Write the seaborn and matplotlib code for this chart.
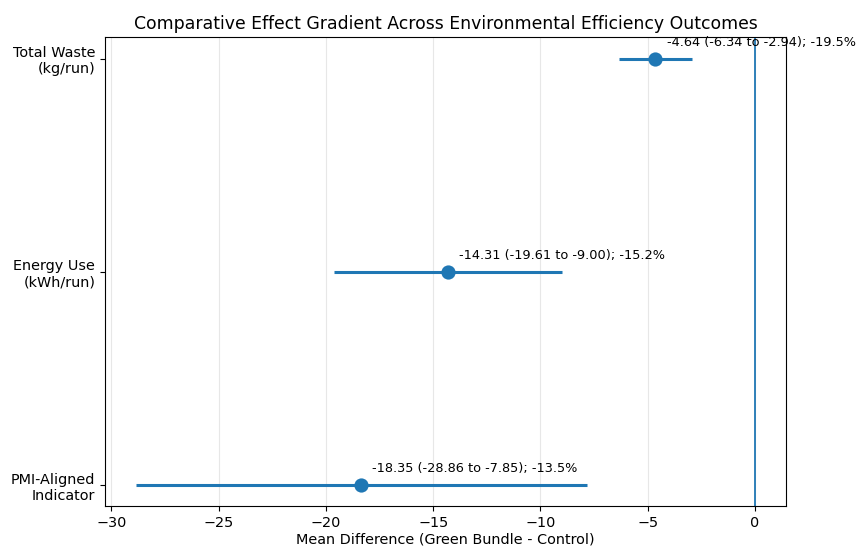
import pandas as pd
import matplotlib
matplotlib.use("Agg")
import matplotlib.pyplot as plt
import seaborn as sns

# Data
outcomes = ["Total Waste\n(kg/run)", "Energy Use\n(kWh/run)", "PMI-Aligned\nIndicator"]
mean_diff = [-4.64, -14.31, -18.35]
ci_low = [-6.34, -19.61, -28.86]
ci_high = [-2.94, -9.00, -7.85]
pct_change = [-19.5, -15.2, -13.5]

df = pd.DataFrame({
    "outcome": outcomes,
    "pos": range(len(outcomes)),
    "mean": mean_diff,
    "low": ci_low,
    "high": ci_high,
    "pct": pct_change,
})

plt.rcParams["font.size"] = 10.35

fig, ax = plt.subplots(figsize=(8.57, 5.48), dpi=100)
fig.subplots_adjust(left=0.1225, right=0.917, bottom=0.076, top=0.932)

color = "#1f77b4"

# CI lines
ax.errorbar(df["mean"], df["pos"],
            xerr=[df["mean"] - df["low"], df["high"] - df["mean"]],
            fmt="none", ecolor=color, elinewidth=2.2, capsize=0, zorder=2)

# point estimates
sns.scatterplot(data=df, x="mean", y="pos", ax=ax, color=color, s=105,
                edgecolor=color, linewidth=0, zorder=3, legend=False)

ax.axvline(0, color=color, linewidth=1.3, zorder=1)

for _, r in df.iterrows():
    ax.annotate(f"{r['mean']:.2f} ({r['low']:.2f} to {r['high']:.2f}); {r['pct']:.1f}%",
                xy=(r["mean"], r["pos"]), xytext=(8, 7), textcoords="offset points",
                fontsize=9.3, ha="left", va="bottom", annotation_clip=False)

ax.set_yticks(df["pos"])
ax.set_yticklabels(df["outcome"])
ax.invert_yaxis()
ax.grid(axis="x", alpha=0.3)
ax.set_axisbelow(True)

ax.set_xlabel("Mean Difference (Green Bundle - Control)", labelpad=2)
ax.set_ylabel("")
ax.set_title("Comparative Effect Gradient Across Environmental Efficiency Outcomes", fontsize=12.4)

fig.savefig("out.png", dpi=100)
plt.close(fig)
